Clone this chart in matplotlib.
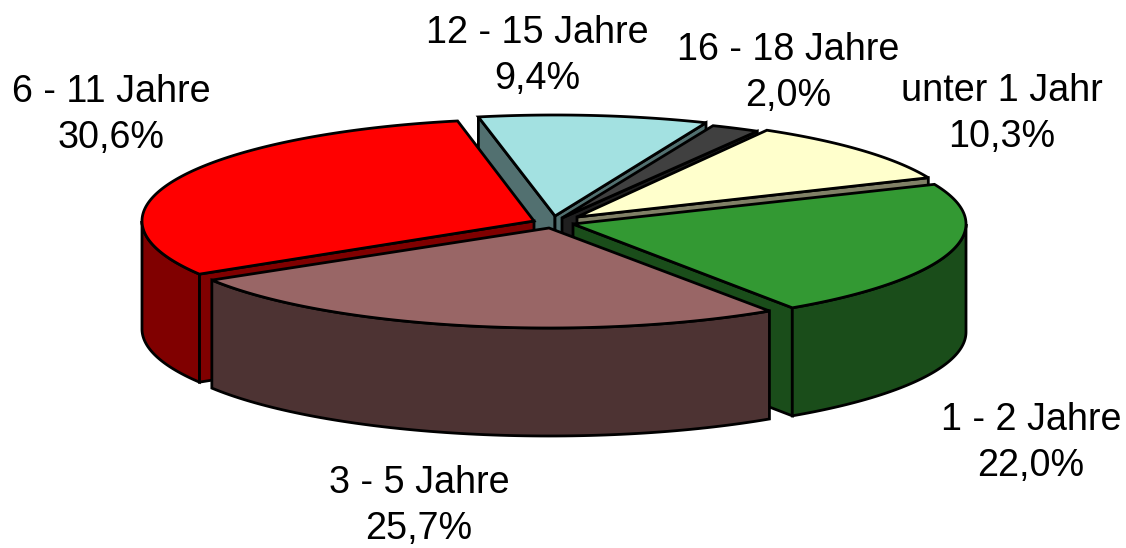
import numpy as np
import matplotlib
matplotlib.use('Agg')
import matplotlib.pyplot as plt
from matplotlib.patches import Polygon

plt.rcParams['font.family'] = ['Liberation Sans', 'DejaVu Sans']

# slices in clockwise order, starting near the top
names = ['unter 1 Jahr', '1 - 2 Jahre', '3 - 5 Jahre', '6 - 11 Jahre', '12 - 15 Jahre', '16 - 18 Jahre']
percent = [10.3, 22.0, 25.7, 30.6, 9.4, 2.0]
top_col = ['#FFFFCC', '#339933', '#996666', '#FF0000', '#A3E1E1', '#404040']
side_col = ['#808066', '#1A4D1A', '#4D3333', '#800000', '#527070', '#202020']

# where the tip of each exploded slice ends up (pixels)
tip_x = [577, 573, 549, 534, 555, 562]
tip_y = [217, 224, 228, 221, 216, 218]
# the original has some perspective, so radii differ a bit per slice
slice_rx = [382, 393, 395, 392, 393, 393]
slice_ry = [100, 101, 100, 102, 101, 100]
label_x = [1002, 1031, 419, 111, 537, 788]
label_y = [114, 443, 506, 115, 56, 73]

start_angle = 29.8
depth = 108
lw = 2.0

# back slices first so the front ones cover them
draw_order = [4, 5, 0, 1, 3, 2]


def rim(i, t):
    t = np.radians(t)
    return tip_x[i] + slice_rx[i] * np.sin(t), tip_y[i] - slice_ry[i] * np.cos(t)


def poly(ax, xs, ys, col):
    ax.add_patch(Polygon(np.column_stack([xs, ys]), closed=True, facecolor=col,
                         edgecolor='black', linewidth=lw, joinstyle='miter'))


fig = plt.figure(figsize=(11.26, 5.48), dpi=100)
ax = fig.add_axes([0, 0, 1, 1])
ax.set_xlim(0, 1126)
ax.set_ylim(548, 0)
ax.axis('off')

edges = start_angle + np.cumsum([0] + percent) * 3.6

for i in draw_order:
    t0, t1 = edges[i], edges[i + 1]
    x0, y0 = tip_x[i], tip_y[i]

    # cut faces
    for t, sign in ((t0, -1), (t1, 1)):
        if sign * np.sin(np.radians(t)) > 0:
            ex, ey = rim(i, t)
            poly(ax, [x0, ex, ex, x0], [y0, ey, ey + depth, y0 + depth], side_col[i])

    # outer wall, only the part facing the viewer
    a, b = max(t0, 90), min(t1, 270)
    if a < b:
        ts = np.linspace(a, b, 80)
        wx, wy = rim(i, ts)
        poly(ax, np.r_[wx, wx[::-1]], np.r_[wy, wy[::-1] + depth], side_col[i])

    # top
    ts = np.linspace(t0, t1, 120)
    tx, ty = rim(i, ts)
    poly(ax, np.r_[x0, tx], np.r_[y0, ty], top_col[i])

for name, p, lx, ly in zip(names, percent, label_x, label_y):
    ax.text(lx, ly, name + '\n' + ('%.1f' % p).replace('.', ',') + '%', ha='center', va='center',
            fontsize=27.2, color='black', linespacing=1.36)

fig.savefig('out.png', dpi=100)
